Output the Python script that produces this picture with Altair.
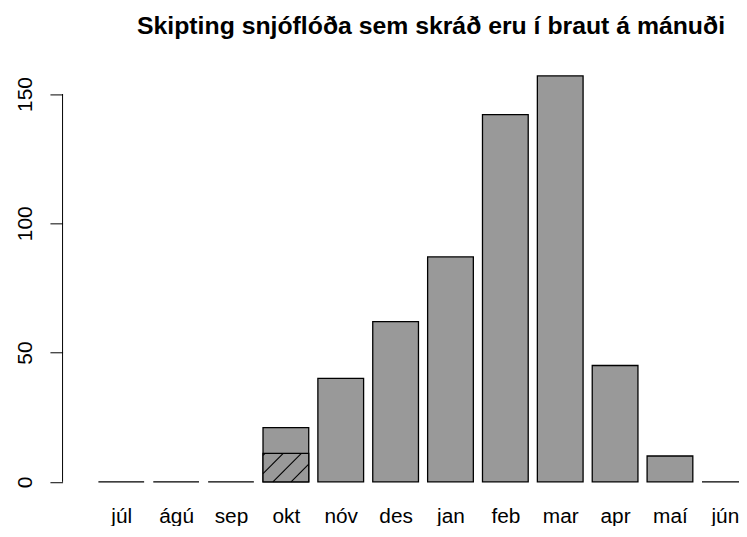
import altair as alt
import pandas as pd

# ---- data ----
months = ["júl", "ágú", "sep", "okt", "nóv", "des", "jan", "feb", "mar", "apr", "maí", "jún"]
counts = [0, 0, 0, 21, 40, 62, 87, 142, 157, 45, 10, 0]
hatched_month = "okt"
hatched_count = 11
y_ticks = [0, 50, 100, 150]
title_text = "Skipting snjóflóða sem skráð eru í braut á mánuði"

# ---- layout / style constants ----
FONT = "Liberation Sans"
BAR_W = 1.0
BAR_SPACE = 0.2
STEP = BAR_W + BAR_SPACE
PLOT_W = 676
PLOT_H = 442
PX_PER_X = 46.1
GRAY = "#999999"

df = pd.DataFrame({"month": months, "count": counts})
df["idx"] = range(len(df))
df["x0"] = df["idx"] * STEP + BAR_SPACE
df["x1"] = df["x0"] + BAR_W
df["xc"] = df["x0"] + BAR_W / 2
df["base"] = 0

x_extent = len(months) * STEP + BAR_SPACE
x_pad = 0.04 * x_extent
x_dom = [-x_pad, -x_pad + PLOT_W / PX_PER_X]
y_pad = 0.04 * max(counts)
y_dom = [-y_pad, max(counts) + y_pad]
px_per_y = PLOT_H / (y_dom[1] - y_dom[0])

# hatched part
hrow = df[df["month"] == hatched_month].iloc[0]
hx0, hx1 = float(hrow["x0"]), float(hrow["x1"])
hatch_df = pd.DataFrame({"x0": [hx0], "x1": [hx1], "base": [0], "top": [hatched_count]})

# 45-degree hatch lines clipped to the hatched rectangle
dx = hatched_count * px_per_y / PX_PER_X
spacing = 18.3 / PX_PER_X
first = hx0 - 8.3 / PX_PER_X
lines = []
k = -1
while True:
    xb = first + k * spacing
    if xb > hx1:
        break
    t0 = max(0.0, (hx0 - xb) / dx)
    t1 = min(1.0, (hx1 - xb) / dx)
    if t1 - t0 > 0.02:
        lines.append({"xa": xb + t0 * dx, "ya": t0 * hatched_count,
                      "xb": xb + t1 * dx, "yb": t1 * hatched_count})
    k += 1
lines_df = pd.DataFrame(lines)

xscale = alt.Scale(domain=x_dom, nice=False, zero=False)
yscale = alt.Scale(domain=y_dom, nice=False, zero=False)

label_arr = "[" + ",".join("'" + m + "'" for m in months) + "]"
x_axis = alt.Axis(
    values=[float(v) for v in df["xc"]],
    labelExpr=f"{label_arr}[round((datum.value - {BAR_SPACE + BAR_W/2}) / {STEP})]",
    ticks=False, tickSize=0, domain=False, grid=False, title=None,
    labelFont=FONT, labelFontSize=21, labelColor="black",
    labelBaseline="alphabetic", labelPadding=25,
    labelFlush=False, labelOverlap=False, labelBound=False,
)
y_axis = alt.Axis(
    values=y_ticks, domain=False, grid=False, title=None,
    tickSize=12.7, tickColor="black", tickWidth=1,
    labelAngle=-90, labelAlign="center", labelBaseline="alphabetic",
    labelPadding=19, labelFont=FONT, labelFontSize=21, labelColor="black",
)

bars = alt.Chart(df).mark_rect(fill=GRAY, stroke="black", strokeWidth=1.3).encode(
    x=alt.X("x0:Q", scale=xscale, axis=x_axis),
    x2="x1:Q",
    y=alt.Y("base:Q", scale=yscale, axis=y_axis),
    y2="count:Q",
)

hatch_rect = alt.Chart(hatch_df).mark_rect(fill=GRAY, stroke="black", strokeWidth=1.3).encode(
    x="x0:Q", x2="x1:Q", y="base:Q", y2="top:Q"
)

hatch_lines = alt.Chart(lines_df).mark_rule(color="black", strokeWidth=1.1).encode(
    x="xa:Q", y="ya:Q", x2="xb:Q", y2="yb:Q"
)

yline_df = pd.DataFrame({"lo": [min(y_ticks)], "hi": [max(y_ticks)]})
yline = alt.Chart(yline_df).mark_rule(color="black", strokeWidth=1).encode(
    x=alt.value(0), y="lo:Q", y2="hi:Q"
)

chart = alt.layer(bars, hatch_rect, hatch_lines, yline).properties(
    width=PLOT_W,
    height=PLOT_H,
    padding={"left": 55, "top": 50, "right": 6, "bottom": 26},
    autosize=alt.AutoSizeParams(type="none"),
    background="white",
    title=alt.TitleParams(
        text=title_text, font=FONT, fontSize=25, fontWeight="bold", color="black",
        anchor="middle", baseline="alphabetic", offset=1, dx=33.5,
    ),
).configure_view(stroke=None)

chart.save("out.html", embed_options={"renderer": "svg", "actions": False})
